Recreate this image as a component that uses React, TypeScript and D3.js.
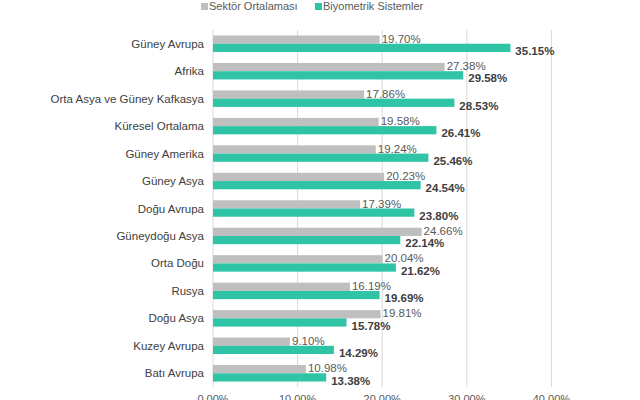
import * as d3 from "d3";

const categories = ["Güney Avrupa", "Afrika", "Orta Asya ve Güney Kafkasya", "Küresel Ortalama", "Güney Amerika", "Güney Asya", "Doğu Avrupa", "Güneydoğu Asya", "Orta Doğu", "Rusya", "Doğu Asya", "Kuzey Avrupa", "Batı Avrupa"];
const sektor = [19.70, 27.38, 17.86, 19.58, 19.24, 20.23, 17.39, 24.66, 20.04, 16.19, 19.81, 9.10, 10.98];
const biyometrik = [35.15, 29.58, 28.53, 26.41, 25.46, 24.54, 23.80, 22.14, 21.62, 19.69, 15.78, 14.29, 13.38];
const ticks = [0, 10, 20, 30, 40];
const GRAY = "#bfbfbf";
const TEAL = "#2ec4a5";

export default function App() {
  const x = d3.scaleLinear().domain([0, 50]).range([213, 636]);
  const y = d3.scaleBand().domain(categories).range([30, 387]).paddingInner(0.4).paddingOuter(0.2);
  const bh = y.bandwidth() / 2;
  const font = "Arial, 'Liberation Sans', sans-serif";
  return (
    <svg width={640} height={400} style={{ position: "absolute", left: 0, top: 0 }} fontFamily={font}>
      <rect width={640} height={400} fill="#fff" />
      {ticks.map((t) => (
        <g key={t}>
          <line x1={x(t)} x2={x(t)} y1={30} y2={387} stroke="#d9d9d9" />
          <text x={x(t)} y={403} textAnchor="middle" fontSize={11} fill="#595959">{t.toFixed(2)}%</text>
        </g>
      ))}
      <rect x={201} y={3} width={7} height={7} fill={GRAY} />
      <text x={209} y={10} fontSize={11} fill="#595959">Sektör Ortalaması</text>
      <rect x={315} y={3} width={7} height={7} fill={TEAL} />
      <text x={323} y={10} fontSize={11} fill="#595959">Biyometrik Sistemler</text>
      {categories.map((c, i) => {
        const y0 = y(c)!;
        return (
          <g key={c}>
            <text x={204} y={y0 + bh + 4} textAnchor="end" fontSize={11.5} fill="#404040">{c}</text>
            <rect x={x(0)} y={y0} width={x(sektor[i]) - x(0)} height={bh} fill={GRAY} />
            <rect x={x(0)} y={y0 + bh} width={x(biyometrik[i]) - x(0)} height={bh} fill={TEAL} />
            <text x={x(sektor[i]) + 2} y={y0 + bh - 1} fontSize={11.5} fill="#595959">{sektor[i].toFixed(2)}%</text>
            <text x={x(biyometrik[i]) + 5} y={y0 + 2 * bh + 3} fontSize={11.5} fontWeight="bold" fill="#404040">{biyometrik[i].toFixed(2)}%</text>
          </g>
        );
      })}
    </svg>
  );
}
